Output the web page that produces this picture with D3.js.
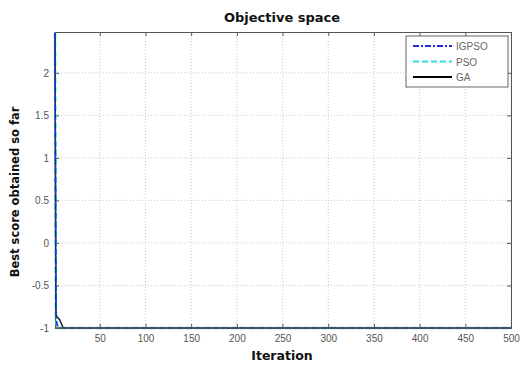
<!DOCTYPE html>
<html><head><meta charset="utf-8">
<script src="https://cdn.jsdelivr.net/npm/d3@7"></script>
<style>body{margin:0;background:#fff}svg{display:block}text{font-family:"Liberation Sans",Arial,sans-serif}</style>
</head><body><svg id="c" width="523" height="365"></svg>
<script>
const xTicks = [50,100,150,200,250,300,350,400,450,500];
const yTicks = [-1,-0.5,0,0.5,1,1.5,2];
const seriesNames = ["IGPSO","PSO","GA"];
const igpsoIter = [1,2,3,4,5,500];
const igpsoVal  = [2.47,-0.88,-0.95,-0.98,-1,-1];
const psoIter = [1,2,3,4,6,500];
const psoVal  = [2.47,-0.9,-0.96,-0.99,-1,-1];
const gaIter = [1,2,4,6,8,10,500];
const gaVal  = [2.47,-0.85,-0.88,-0.9,-0.95,-1,-1];

const svg = d3.select("#c");
const m = {l:55, r:511, t:32, b:328};
const x = d3.scaleLinear().domain([1,500]).range([m.l,m.r]);
const y = d3.scaleLinear().domain([-1,2.48]).range([m.b,m.t]);

// grid
const g = svg.append("g");
g.selectAll(".gx").data(xTicks).enter().append("line")
 .attr("x1",d=>x(d)).attr("x2",d=>x(d)).attr("y1",m.t).attr("y2",m.b)
 .attr("stroke","#c8c8c8").attr("stroke-dasharray","1,2").attr("stroke-width",1);
g.selectAll(".gy").data(yTicks).enter().append("line")
 .attr("y1",d=>y(d)).attr("y2",d=>y(d)).attr("x1",m.l).attr("x2",m.r)
 .attr("stroke","#c8c8c8").attr("stroke-dasharray","1,2").attr("stroke-width",1);

// axes
const ax = d3.axisBottom(x).tickValues(xTicks).tickSize(-4).tickPadding(7);
const axT = d3.axisTop(x).tickValues(xTicks).tickSize(-4).tickFormat("");
const ay = d3.axisLeft(y).tickValues(yTicks).tickSize(-4).tickPadding(6).tickFormat(d=>String(d));
const ayR = d3.axisRight(y).tickValues(yTicks).tickSize(-4).tickFormat("");
function style(sel){sel.select(".domain").attr("stroke","#555");sel.selectAll(".tick line").attr("stroke","#555");
 sel.selectAll("text").attr("fill","#555").style("font-size","10px");}
svg.append("g").attr("transform",`translate(0,${m.b})`).call(ax).call(style);
svg.append("g").attr("transform",`translate(0,${m.t})`).call(axT).call(style);
svg.append("g").attr("transform",`translate(${m.l},0)`).call(ay).call(style);
svg.append("g").attr("transform",`translate(${m.r},0)`).call(ayR).call(style);

// lines
const line = d3.line().x(d=>x(d[0])).y(d=>y(d[1]));
const series = [
 {it:psoIter, v:psoVal, c:"#33dddd", dash:"6,3", w:2.5},
 {it:gaIter, v:gaVal, c:"#0a2a33", dash:null, w:1.5},
 {it:igpsoIter, v:igpsoVal, c:"#2233dd", dash:"6,2,2,2", w:1.5}
];
series.forEach(s=>{
 const p = svg.append("path").datum(d3.zip(s.it,s.v)).attr("d",line)
  .attr("fill","none").attr("stroke",s.c).attr("stroke-width",s.w);
 if(s.dash) p.attr("stroke-dasharray",s.dash);
});
svg.append("line").attr("x1",m.l).attr("x2",m.r).attr("y1",m.b).attr("y2",m.b).attr("stroke","#555").attr("stroke-width",1.5);

// title & labels
const bold = "'DejaVu Sans', sans-serif";
svg.append("text").attr("x",282).attr("y",22).attr("text-anchor","middle")
 .style("font-family",bold).style("font-size","13px").style("font-weight","bold").attr("fill","#111").text("Objective space");
svg.append("text").attr("x",282).attr("y",360).attr("text-anchor","middle")
 .style("font-family",bold).style("font-size","12.5px").style("font-weight","bold").attr("fill","#111").text("Iteration");
svg.append("text").attr("transform","translate(19,192) rotate(-90)").attr("text-anchor","middle")
 .style("font-family",bold).style("font-size","11.5px").style("font-weight","bold").attr("fill","#111").text("Best score obtained so far");

// legend
const lg = svg.append("g");
lg.append("rect").attr("x",406).attr("y",36).attr("width",102).attr("height",51)
 .attr("fill","#fff").attr("stroke","#666").attr("stroke-width",1);
const legStyles = [
 {c:"#2233dd",dash:"6,2,2,2"},{c:"#33dddd",dash:"6,3"},{c:"#000",dash:null}];
seriesNames.forEach((n,i)=>{
 const yy = 46 + i*15.5;
 const l = lg.append("line").attr("x1",413).attr("x2",452).attr("y1",yy).attr("y2",yy)
  .attr("stroke",legStyles[i].c).attr("stroke-width",2);
 if(legStyles[i].dash) l.attr("stroke-dasharray",legStyles[i].dash);
 lg.append("text").attr("x",456).attr("y",yy+4).style("font-size","10px").attr("fill","#666").text(n);
});
</script></body></html>
